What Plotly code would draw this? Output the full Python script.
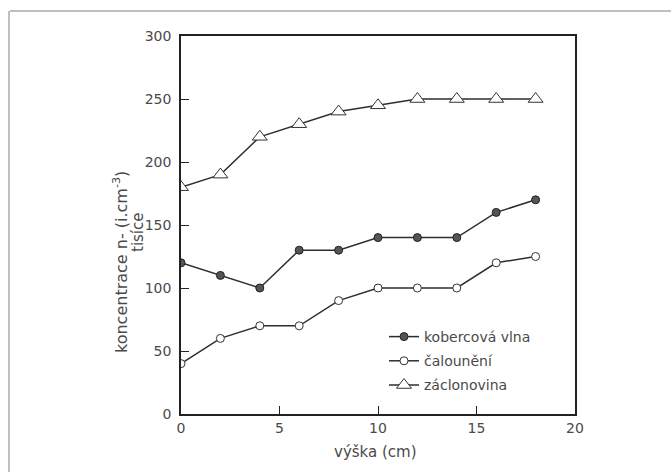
import plotly.graph_objects as go

# Data
vyska = [0, 2, 4, 6, 8, 10, 12, 14, 16, 18]
kobercova_vlna = [120, 110, 100, 130, 130, 140, 140, 140, 160, 170]
calouneni = [40, 60, 70, 70, 90, 100, 100, 100, 120, 125]
zaclonovina = [180, 190, 220, 230, 240, 245, 250, 250, 250, 250]

x_ticks = [0, 5, 10, 15, 20]
y_ticks = [0, 50, 100, 150, 200, 250, 300]

W, H = 671, 472
L, R, T, B = 181, 575, 36, 414

FONT = "DejaVu Sans"
TXT = "#4a4a4a"
LINE = "#2e2e2e"

def px(x):
    return (x - L) / (R - L)

def py(y):
    return (B - y) / (B - T)

fig = go.Figure()
fig.add_trace(go.Scatter(
    x=vyska, y=kobercova_vlna, name="kobercová vlna", mode="lines+markers",
    legendgroup="a",
    line=dict(color=LINE, width=1.5),
    marker=dict(symbol="circle", size=8, color="#555555", line=dict(color="#222222", width=1)),
))
fig.add_trace(go.Scatter(
    x=vyska, y=calouneni, name="čalounění", mode="lines+markers",
    legendgroup="b",
    line=dict(color=LINE, width=1.5),
    marker=dict(symbol="circle", size=8, color="white", line=dict(color="#333333", width=1)),
))
fig.add_trace(go.Scatter(
    x=vyska, y=zaclonovina, name="záclonovina", mode="lines+markers",
    legendgroup="c",
    line=dict(color=LINE, width=1.5),
    marker=dict(symbol="triangle-up", size=13, color="white", line=dict(color="#333333", width=1)),
))

axis_common = dict(
    showline=True, linecolor="#222222", linewidth=1.5, mirror=True,
    ticks="inside", ticklen=8, tickwidth=1.2, tickcolor="#222222",
    showgrid=False, zeroline=False,
    tickfont=dict(family=FONT, size=14, color=TXT),
)

fig.update_xaxes(range=[0, 20], tickvals=x_ticks, **axis_common)
fig.update_yaxes(range=[0, 300], tickvals=y_ticks, ticklabelstandoff=5, **axis_common)

fig.update_layout(
    width=W, height=H,
    margin=dict(l=L, r=W - R, t=T, b=H - B, pad=0),
    paper_bgcolor="white", plot_bgcolor="white",
    showlegend=True,
    legend=dict(
        x=px(384), y=py(321), xanchor="left", yanchor="top",
        bgcolor="rgba(0,0,0,0)", borderwidth=0,
        font=dict(family=FONT, size=14, color=TXT),
        tracegroupgap=3, itemwidth=30,
    ),
    annotations=[
        dict(text="výška (cm)", x=px(375), y=py(452), xref="paper", yref="paper",
             showarrow=False, xanchor="center", yanchor="middle",
             font=dict(family=FONT, size=15, color=TXT)),
        dict(text="koncentrace n- (i.cm<sup>-3</sup>)", x=px(120), y=py(262),
             xref="paper", yref="paper", textangle=-90, showarrow=False,
             xanchor="center", yanchor="middle",
             font=dict(family=FONT, size=16, color=TXT)),
        dict(text="tisíce", x=px(138), y=py(232),
             xref="paper", yref="paper", textangle=-90, showarrow=False,
             xanchor="center", yanchor="middle",
             font=dict(family=FONT, size=15, color=TXT)),
    ],
    shapes=[
        dict(type="line", xref="paper", yref="paper", x0=px(10), x1=px(671), y0=py(11), y1=py(11),
             line=dict(color="#aaaaaa", width=1.5)),
        dict(type="line", xref="paper", yref="paper", x0=px(9), x1=px(9), y0=py(11), y1=py(472),
             line=dict(color="#aaaaaa", width=1.5)),
    ],
)

fig.write_html("out.html")
